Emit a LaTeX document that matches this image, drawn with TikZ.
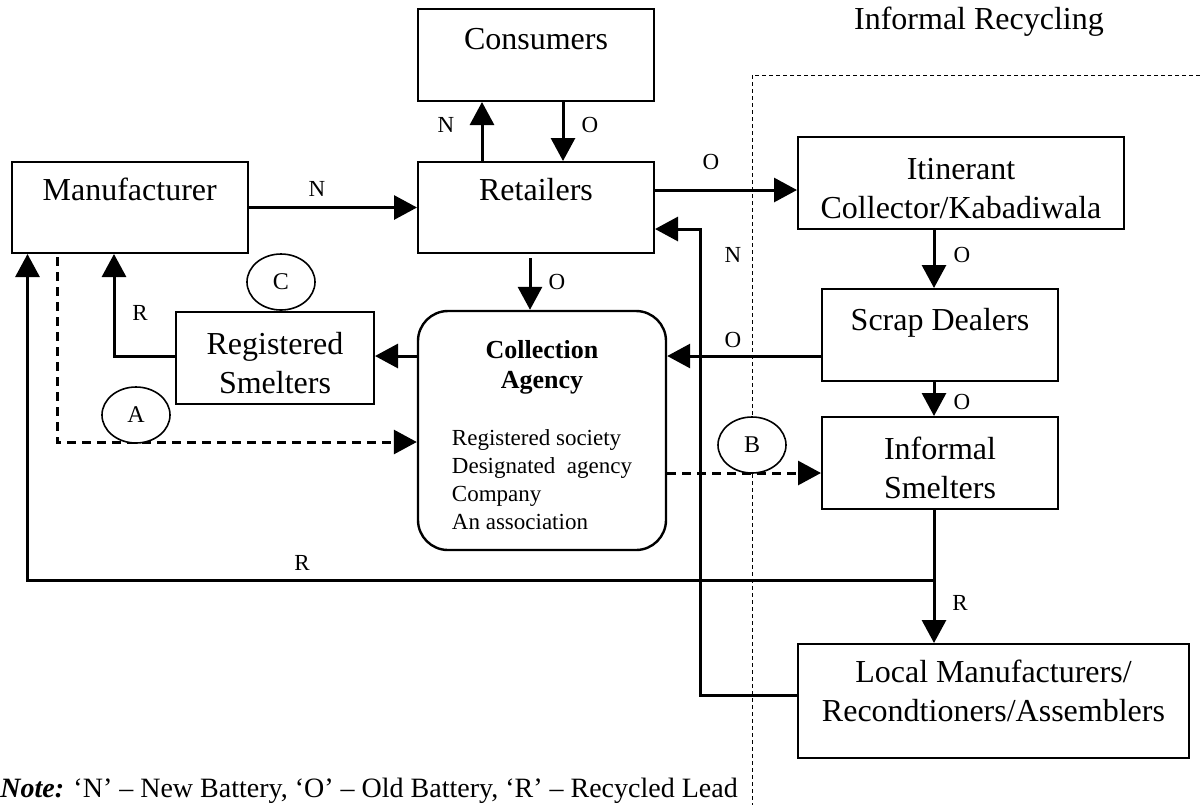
\documentclass[tikz,border=0pt]{standalone}
\usepackage{fontspec}
\setmainfont{Liberation Serif}
\usetikzlibrary{arrows.meta,shapes.geometric,calc}

\tikzset{
  box/.style={draw, line width=1pt, align=center, inner sep=0pt,
    font=\fontsize{16}{19.5}\selectfont},
  twoline/.style={text height=35pt, text depth=0pt},
  agency/.style={draw, line width=1.2pt, rounded corners=15pt},
  catxt/.style={align=center, inner sep=0pt, font=\fontsize{11.5}{14}\selectfont},
  arr/.style={line width=1.5pt, -{Triangle[length=11.5pt,width=12pt]}},
  darr/.style={arr, dash pattern=on 4.5pt off 3pt},
  lbl/.style={inner sep=0pt, font=\fontsize{11.5}{13}\selectfont},
  tag/.style={draw, ellipse, fill=white, line width=0.8pt, inner sep=0pt,
    minimum width=34pt, minimum height=28pt, font=\fontsize{12}{14}\selectfont},
  bound/.style={line width=0.5pt, dash pattern=on 2pt off 1.5pt}
}

\begin{document}
\begin{tikzpicture}[x=0.5pt,y=-0.5pt]
  \useasboundingbox (0,0) rectangle (1200,805);

  % informal recycling area
  \draw[bound] (1200,75) -- (752,75) -- (752,805);
  \node[box, draw=none] (irec) at (979,22) {Informal Recycling};

  % boxes
  \node[box, minimum width=118.25pt, minimum height=45.5pt, text depth=18.5pt] (man) at (129.75,207.5) {Manufacturer};
  \node[box, minimum width=118pt, minimum height=45.5pt, text depth=18.5pt] (ret) at (536,207.5) {Retailers};
  \node[box, minimum width=118pt, minimum height=46pt, text depth=16pt] (con) at (536,55) {Consumers};
  \node[box, twoline, minimum width=99pt, minimum height=46pt] (rs) at (275,358) {Registered\\Smelters};
  \node[agency, minimum width=124pt, minimum height=119.5pt] (ca) at (542,430.5) {};
  \node[catxt, anchor=north] (catext) at (542,340)
    {\textbf{\fontsize{13}{15}\selectfont Collection}\\[1pt]
     \textbf{\fontsize{13}{15}\selectfont Agency}\\[14.5pt]
     \begin{tabular}[t]{@{}l@{}}Registered society\\Designated\hspace{0.5em}agency\\Company\\An association\end{tabular}};
  \node[box, twoline, minimum width=163pt, minimum height=46pt] (itin) at (961,183) {Itinerant\\Collector/Kabadiwala};
  \node[box, minimum width=118pt, minimum height=46pt, text depth=16pt] (scr) at (940,335) {Scrap Dealers};
  \node[box, twoline, minimum width=118pt, minimum height=46pt] (is) at (940,463) {Informal\\Smelters};
  \node[box, minimum width=195.5pt, minimum height=57pt, text depth=10.5pt] (lm) at (993.5,701) {Local Manufacturers/\\Recondtioners/Assemblers};

  % bend points
  \coordinate (colR) at (934,580);
  \coordinate (loopR) at (27.5,580);
  \coordinate (dA) at (57,442);
  \coordinate (rR) at (114,356);
  \coordinate (nB) at (700,229);

  % flows
  \draw[arr] (man.east) -- (ret.west);
  \draw[arr] ([xshift=-27pt]ret.north) -- ([xshift=-27pt]con.south);
  \draw[arr] ([xshift=13.5pt]con.south) -- ([xshift=13.5pt]ret.north);
  \draw[arr] ([xshift=-3pt,yshift=-2pt]ret.south) -- ([xshift=-6pt]ca.north);
  \draw[arr] ([yshift=8.75pt]ret.east) -- ([yshift=8.75pt]ret.east -| itin.west);
  \draw[arr] (colR |- itin.south) -- (colR |- scr.north);
  \draw[arr] (colR |- scr.south) -- (colR |- is.north);
  \draw[arr] (colR |- is.south) -- (colR |- lm.north);
  \draw[arr] ([yshift=-10.5pt]scr.west) -- ([yshift=-10.5pt]scr.west -| ca.east);
  \draw[arr] ([yshift=1pt]rs.east -| ca.west) -- ([yshift=1pt]rs.east);
  \draw[arr] ([yshift=1pt]rs.west) -| (rR |- man.south);
  \draw[arr] (colR) -- (loopR) -- (loopR |- man.south);
  \draw[arr] ([yshift=3pt]lm.west) -| (nB) -- (nB -| ret.east);
  \draw[darr] ([yshift=-1.5pt]dA |- man.south) -- (dA) -- (dA -| ca.west);
  \draw[darr] ([yshift=-5pt]is.west -| ca.east) -- ([yshift=-5pt]is.west);

  % flow labels
  \node[lbl] (lN1) at (317,189) {N};
  \node[lbl] (lN2) at (446,125) {N};
  \node[lbl] (lO1) at (590,125) {O};
  \node[lbl] (lO2) at (557,282) {O};
  \node[lbl] (lR1) at (140,313) {R};
  \node[lbl] (lO3) at (711,162) {O};
  \node[lbl] (lN3) at (733,255) {N};
  \node[lbl] (lO4) at (962,255) {O};
  \node[lbl] (lO5) at (733,340) {O};
  \node[lbl] (lO6) at (962,402) {O};
  \node[lbl] (lR2) at (302,563) {R};
  \node[lbl] (lR3) at (960,603) {R};

  % tags
  \node[tag] (tC) at (281,282) {C};
  \node[tag] (tA) at (136,415) {A};
  \node[tag] (tB) at (752,445) {B};

  % note
  \node[anchor=base west, inner sep=0pt, font=\fontsize{14}{16}\selectfont] (note) at (0,797)
    {\textbf{\textit{Note:}} ‘N’ – New Battery, ‘O’ – Old Battery, ‘R’ – Recycled Lead};
\end{tikzpicture}
\end{document}
